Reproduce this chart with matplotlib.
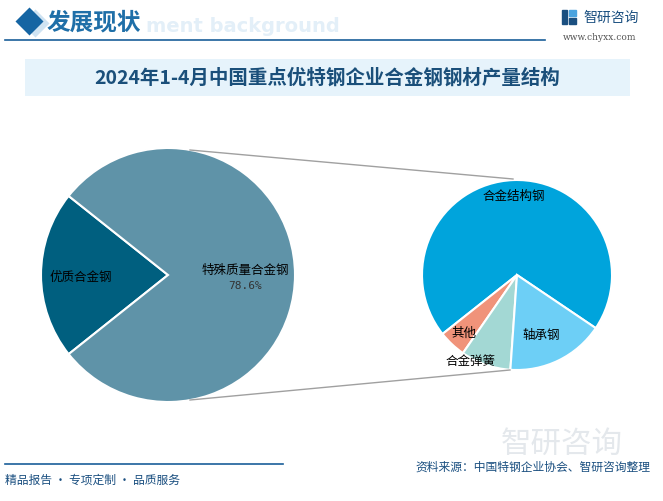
import matplotlib
matplotlib.use("Agg")
import matplotlib.pyplot as plt
from matplotlib.patches import Rectangle

plt.rcParams['font.family'] = ['Noto Sans CJK SC', 'DejaVu Sans']

# data
title = "2024年1-4月中国重点优特钢企业合金钢钢材产量结构"
main_labels = ["优质合金钢", "特殊质量合金钢"]
main_values = [21.4, 78.6]
main_colors = ["#005f7f", "#5f93a8"]

sub_labels = ["合金结构钢", "其他", "合金弹簧", "轴承钢"]
sub_values = [55.1, 3.7, 6.7, 13.1]
sub_colors = ["#00a4dc", "#f0937a", "#a3d8d4", "#6dcff6"]

W, H = 663, 502
fig = plt.figure(figsize=(W / 100, H / 100), dpi=100)
ax = fig.add_axes([0, 0, 1, 1])


def Y(y):
    # pixel row -> data y (y up)
    return H - y


# left pie
lc, lr = (168, Y(276)), 127
ax.pie(main_values, colors=main_colors, startangle=141.5, center=lc, radius=lr,
       wedgeprops=dict(edgecolor="white", linewidth=1.5))
# right pie
rc, rr = (517, Y(276)), 95
ax.pie(sub_values, colors=sub_colors, startangle=-34, center=rc, radius=rr,
       wedgeprops=dict(edgecolor="white", linewidth=1.5))

ax.set_xlim(0, W)
ax.set_ylim(0, H)
ax.set_aspect("equal")
ax.axis("off")

# connector lines
ax.plot([190, 513], [Y(151), Y(180)], color="#a0a0a0", lw=1)
ax.plot([190, 510], [Y(401), Y(371)], color="#a0a0a0", lw=1)

# pie labels
ax.text(49, Y(277), main_labels[0], fontsize=9, va="center", ha="left")
ax.text(245, Y(270), main_labels[1], fontsize=9, va="center", ha="center")
ax.text(245, Y(286), f"{main_values[1]}%", fontsize=8, va="center", ha="center",
        color="#333333", family="DejaVu Sans Mono")
ax.text(514, Y(196), sub_labels[0], fontsize=9, va="center", ha="center")
ax.text(464, Y(333), sub_labels[1], fontsize=9, va="center", ha="center")
ax.text(471, Y(361), sub_labels[2], fontsize=9, va="center", ha="center")
ax.text(541, Y(335), sub_labels[3], fontsize=9, va="center", ha="center")

# header
ax.text(146, Y(27), "ment background", fontsize=14, fontweight="bold",
        color="#e3eff8", va="center", ha="left", family="DejaVu Sans")
ax.plot([35], [Y(24)], marker="D", ms=14, color="#cfe3f2", mec="none")
ax.plot([29], [Y(22)], marker="D", ms=14, color="#1565a3", mec="none")
ax.text(47, Y(22), "发展现状", fontsize=17, fontweight="bold", color="#1f6fa8",
        va="center", ha="left")
ax.plot([5, 545], [Y(41), Y(41)], color="#1a5f99", lw=1.2)
ax.add_patch(Rectangle((562, Y(25)), 5, 14, color="#1a4f80"))
ax.add_patch(Rectangle((569, Y(25)), 7, 6, color="#1a4f80"))
ax.add_patch(Rectangle((569, Y(17)), 7, 6, color="#4aa3df"))
ax.text(583, Y(18), "智研咨询", fontsize=10, color="#1a4f80", va="center", ha="left")
ax.text(600, Y(38), "www.chyxx.com", fontsize=6.5, color="#555555", va="center",
        ha="center", family="DejaVu Serif")

# title band
ax.add_patch(Rectangle((25, Y(97)), 605, 37, color="#e6f3fb", lw=0))
ax.text(327, Y(78), title, fontsize=14, fontweight="bold", color="#1a4f7a",
        va="center", ha="center")

# footer
ax.text(562, Y(444), "智研咨询", fontsize=22, color="#e4e8ec", va="center",
        ha="center", zorder=0)
ax.plot([5, 283], [Y(465), Y(465)], color="#1a5f99", lw=1.2)
ax.text(5, Y(480), "精品报告 · 专项定制 · 品质服务", fontsize=8.5, color="#1a4f80",
        va="center", ha="left")
ax.text(650, Y(467), "资料来源：中国特钢企业协会、智研咨询整理", fontsize=8.5,
        color="#1a4f80", va="center", ha="right")

fig.savefig("out.png", dpi=100)
